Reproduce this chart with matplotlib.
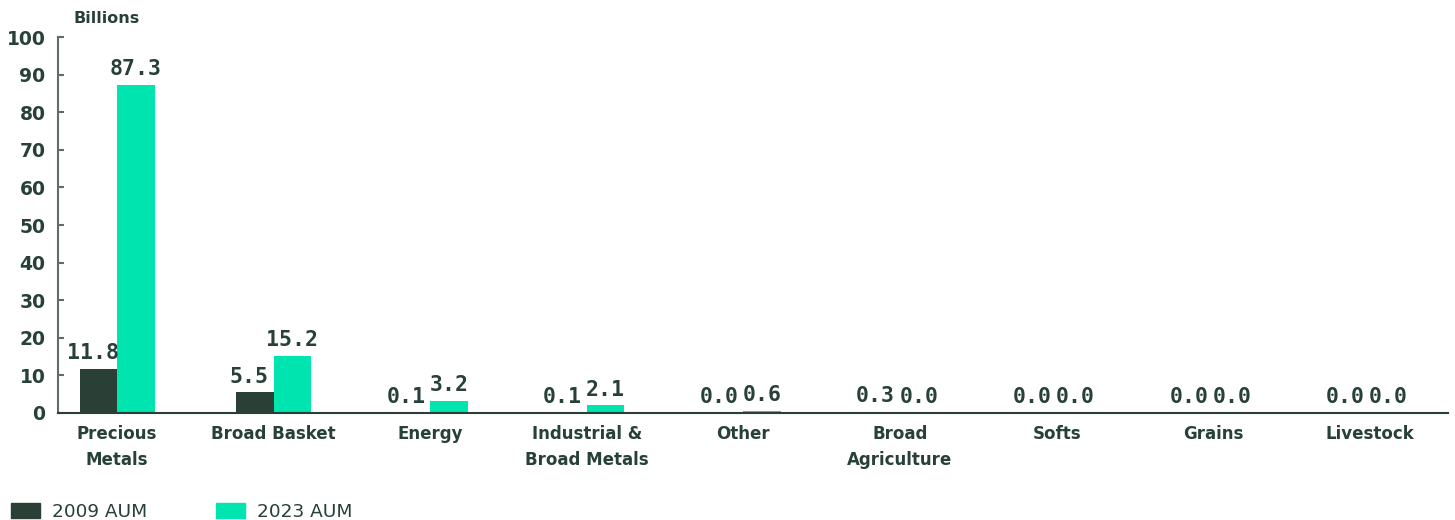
import numpy as np
import matplotlib
matplotlib.use("Agg")
import matplotlib.pyplot as plt
from matplotlib.patches import Patch

categories = ["Precious\nMetals", "Broad Basket", "Energy", "Industrial &\nBroad Metals",
              "Other", "Broad\nAgriculture", "Softs", "Grains", "Livestock"]
aum_2009 = [11.8, 5.5, 0.1, 0.1, 0.0, 0.3, 0.0, 0.0, 0.0]
aum_2023 = [87.3, 15.2, 3.2, 2.1, 0.6, 0.0, 0.0, 0.0, 0.0]
yticks = [0, 10, 20, 30, 40, 50, 60, 70, 80, 90, 100]

DARK = "#2a3f35"
MINT = "#00e5b0"
TEXT = "#27403a"

fig = plt.figure(figsize=(14.55, 5.2), dpi=100)
ax = fig.add_axes([0.0399, 0.2058, 0.9553, 0.723])

x = np.arange(len(categories))
w = 0.24
b1 = ax.bar(x - w / 2, aum_2009, w, color=DARK)
b2 = ax.bar(x + w / 2, aum_2023, w, color=MINT)

for bars, vals, dx in ((b1, aum_2009, -4), (b2, aum_2023, 0)):
    for r, v in zip(bars, vals):
        ax.annotate(f"{v:.1f}", (r.get_x() + r.get_width() / 2, r.get_height()),
                    xytext=(dx, 4), textcoords="offset points", ha="center", va="bottom",
                    family="DejaVu Sans Mono", fontweight="bold", fontsize=15.5, color=TEXT)

ax.set_xlim(-0.377, 8.5)
ax.set_ylim(0, 100)
ax.set_yticks(yticks)
ax.set_xticks(x)
ax.set_xticklabels(categories, linespacing=1.55)
for s in ("top", "right"):
    ax.spines[s].set_visible(False)
ax.spines["left"].set_color("#5d6e66")
ax.spines["left"].set_linewidth(1.5)
ax.spines["bottom"].set_color(DARK)
ax.spines["bottom"].set_linewidth(1.5)
ax.tick_params(axis="y", direction="in", length=4, width=1.5, color="#5d6e66", pad=9,
               labelsize=13.5, labelcolor=TEXT)
ax.tick_params(axis="x", length=0, pad=9, labelsize=12, labelcolor=TEXT)
for lab in ax.get_yticklabels() + ax.get_xticklabels():
    lab.set_fontweight("bold")
    lab.set_family("DejaVu Sans")

fig.text(0.0502, 0.965, "Billions", fontsize=11.5, fontweight="bold", color=TEXT,
         family="DejaVu Sans", ha="left", va="center")

handles = [Patch(color=DARK), Patch(color=MINT)]
fig.legend(handles, ["2009 AUM", "2023 AUM"], loc="lower left", bbox_to_anchor=(-0.004, -0.034),
           ncol=2, frameon=False, handlelength=1.6, handleheight=0.85,
           handletextpad=0.65, columnspacing=3.7, labelcolor=TEXT, borderpad=0.4,
           prop={"family": "DejaVu Sans", "size": 13.3})

fig.savefig("out.png", dpi=100)
